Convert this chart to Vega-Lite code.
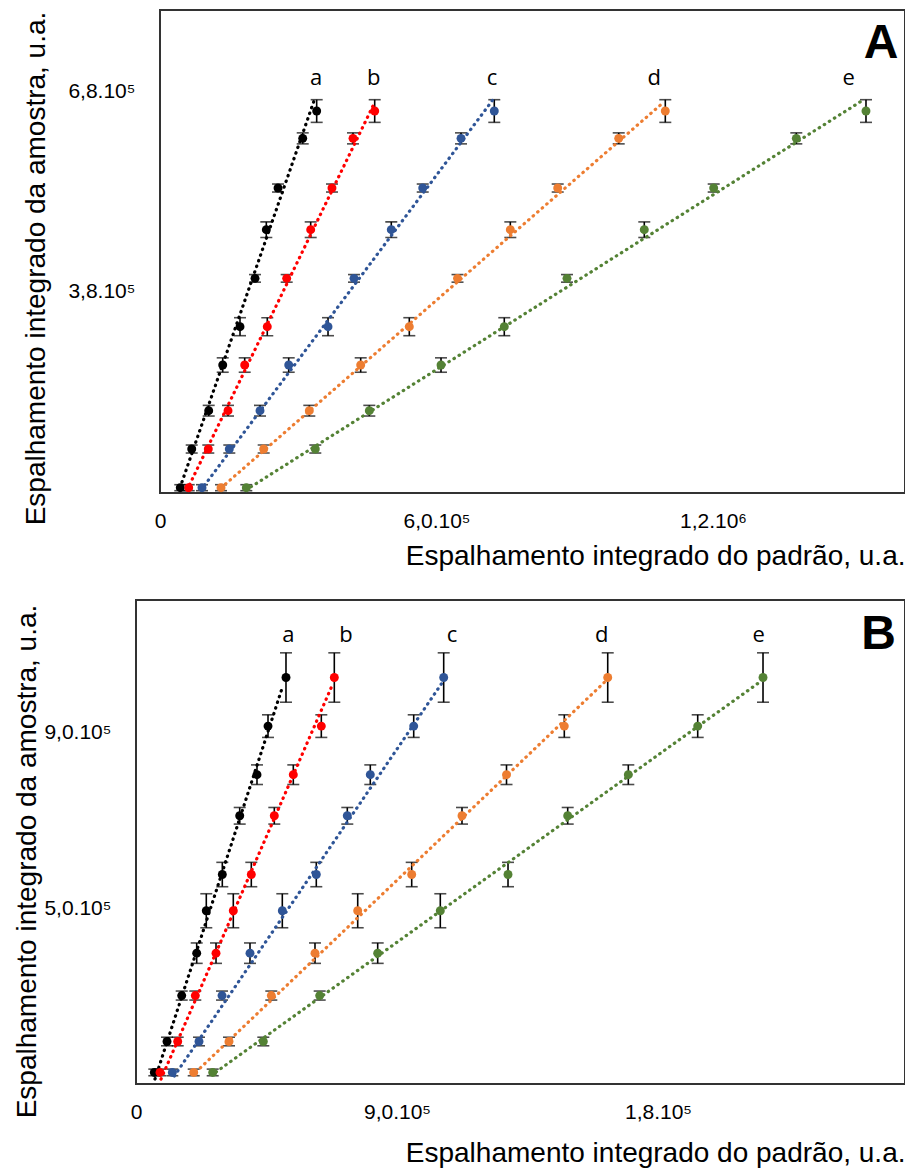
{
  "$schema": "https://vega.github.io/schema/vega-lite/v6.json",
  "padding": {"left": 11, "top": 9, "right": 0, "bottom": 0},
  "background": "white",
  "spacing": 29,
  "datasets": {
    "ptsA": [
      {"s": "a", "x": 44000, "y": 86000, "e": 4500},
      {"s": "a", "x": 68800, "y": 144000, "e": 6000},
      {"s": "a", "x": 105700, "y": 201500, "e": 8000},
      {"s": "a", "x": 136100, "y": 270000, "e": 10800},
      {"s": "a", "x": 173600, "y": 327500, "e": 13500},
      {"s": "a", "x": 206200, "y": 400000, "e": 5700},
      {"s": "a", "x": 230700, "y": 473000, "e": 11700},
      {"s": "a", "x": 256100, "y": 535500, "e": 6000},
      {"s": "a", "x": 309700, "y": 610000, "e": 8250},
      {"s": "a", "x": 340000, "y": 651000, "e": 17000},
      {"s": "b", "x": 62300, "y": 86000, "e": 4500},
      {"s": "b", "x": 104800, "y": 144000, "e": 6000},
      {"s": "b", "x": 147600, "y": 201500, "e": 8000},
      {"s": "b", "x": 183800, "y": 270000, "e": 10800},
      {"s": "b", "x": 232800, "y": 327500, "e": 13500},
      {"s": "b", "x": 274900, "y": 400000, "e": 5700},
      {"s": "b", "x": 327000, "y": 473000, "e": 11700},
      {"s": "b", "x": 373200, "y": 535500, "e": 6000},
      {"s": "b", "x": 418800, "y": 610000, "e": 8250},
      {"s": "b", "x": 465900, "y": 651000, "e": 17000},
      {"s": "c", "x": 91100, "y": 86000, "e": 4500},
      {"s": "c", "x": 150400, "y": 144000, "e": 6000},
      {"s": "c", "x": 217000, "y": 201500, "e": 8000},
      {"s": "c", "x": 279300, "y": 270000, "e": 10800},
      {"s": "c", "x": 364600, "y": 327500, "e": 13500},
      {"s": "c", "x": 421000, "y": 400000, "e": 5700},
      {"s": "c", "x": 501900, "y": 473000, "e": 11700},
      {"s": "c", "x": 570100, "y": 535500, "e": 6000},
      {"s": "c", "x": 653200, "y": 610000, "e": 8250},
      {"s": "c", "x": 725400, "y": 651000, "e": 17000},
      {"s": "d", "x": 132400, "y": 86000, "e": 4500},
      {"s": "d", "x": 225000, "y": 144000, "e": 6000},
      {"s": "d", "x": 324000, "y": 201500, "e": 8000},
      {"s": "d", "x": 435500, "y": 270000, "e": 10800},
      {"s": "d", "x": 541000, "y": 327500, "e": 13500},
      {"s": "d", "x": 645600, "y": 400000, "e": 5700},
      {"s": "d", "x": 760200, "y": 473000, "e": 11700},
      {"s": "d", "x": 863000, "y": 535500, "e": 6000},
      {"s": "d", "x": 995400, "y": 610000, "e": 8250},
      {"s": "d", "x": 1096500, "y": 651000, "e": 17000},
      {"s": "e", "x": 187300, "y": 86000, "e": 4500},
      {"s": "e", "x": 337000, "y": 144000, "e": 6000},
      {"s": "e", "x": 454200, "y": 201500, "e": 8000},
      {"s": "e", "x": 609800, "y": 270000, "e": 10800},
      {"s": "e", "x": 747100, "y": 327500, "e": 13500},
      {"s": "e", "x": 883200, "y": 400000, "e": 5700},
      {"s": "e", "x": 1050900, "y": 473000, "e": 11700},
      {"s": "e", "x": 1201500, "y": 535500, "e": 6000},
      {"s": "e", "x": 1380800, "y": 610000, "e": 8250},
      {"s": "e", "x": 1532000, "y": 651000, "e": 17000}
    ],
    "linesA": [
      {"s": "a", "x": 43400, "y": 86000}, {"s": "a", "x": 334800, "y": 667500},
      {"s": "b", "x": 58600, "y": 82600}, {"s": "b", "x": 466600, "y": 665000},
      {"s": "c", "x": 89000, "y": 82600}, {"s": "c", "x": 722000, "y": 667500},
      {"s": "d", "x": 132400, "y": 85600}, {"s": "d", "x": 1094300, "y": 665000},
      {"s": "e", "x": 186600, "y": 82600}, {"s": "e", "x": 1528300, "y": 668600}
    ],
    "lettersA": [
      {"t": "a", "x": 338500, "y": 690000},
      {"t": "b", "x": 463700, "y": 690000},
      {"t": "c", "x": 720400, "y": 690000},
      {"t": "d", "x": 1072600, "y": 690000},
      {"t": "e", "x": 1494500, "y": 690000}
    ],
    "panelA": [{"t": "A", "x": 1564600, "y": 730500}],
    "frameA": [{"x0": 0, "x1": 1616650, "y0": 78050, "y1": 802550}],
    "ptsB": [
      {"s": "a", "x": 63100, "y": 130000, "e": 7500},
      {"s": "a", "x": 106900, "y": 200000, "e": 9700},
      {"s": "a", "x": 157600, "y": 304000, "e": 10200},
      {"s": "a", "x": 209300, "y": 400000, "e": 23100},
      {"s": "a", "x": 242400, "y": 496000, "e": 38500},
      {"s": "a", "x": 297600, "y": 578000, "e": 27600},
      {"s": "a", "x": 357600, "y": 711000, "e": 18800},
      {"s": "a", "x": 417200, "y": 804000, "e": 22200},
      {"s": "a", "x": 455200, "y": 914000, "e": 25600},
      {"s": "a", "x": 517200, "y": 1024000, "e": 55900},
      {"s": "b", "x": 82800, "y": 130000, "e": 7500},
      {"s": "b", "x": 143800, "y": 200000, "e": 9700},
      {"s": "b", "x": 204500, "y": 304000, "e": 10200},
      {"s": "b", "x": 275900, "y": 400000, "e": 23100},
      {"s": "b", "x": 335500, "y": 496000, "e": 38500},
      {"s": "b", "x": 397600, "y": 578000, "e": 27600},
      {"s": "b", "x": 476900, "y": 711000, "e": 18800},
      {"s": "b", "x": 542400, "y": 804000, "e": 22200},
      {"s": "b", "x": 639000, "y": 914000, "e": 25600},
      {"s": "b", "x": 683800, "y": 1024000, "e": 55900},
      {"s": "c", "x": 125200, "y": 130000, "e": 7500},
      {"s": "c", "x": 217200, "y": 200000, "e": 9700},
      {"s": "c", "x": 296600, "y": 304000, "e": 10200},
      {"s": "c", "x": 393100, "y": 400000, "e": 23100},
      {"s": "c", "x": 504500, "y": 496000, "e": 38500},
      {"s": "c", "x": 621700, "y": 578000, "e": 27600},
      {"s": "c", "x": 728600, "y": 711000, "e": 18800},
      {"s": "c", "x": 807900, "y": 804000, "e": 22200},
      {"s": "c", "x": 957600, "y": 914000, "e": 25600},
      {"s": "c", "x": 1061000, "y": 1024000, "e": 55900},
      {"s": "d", "x": 199000, "y": 130000, "e": 7500},
      {"s": "d", "x": 320700, "y": 200000, "e": 9700},
      {"s": "d", "x": 466600, "y": 304000, "e": 10200},
      {"s": "d", "x": 617200, "y": 400000, "e": 23100},
      {"s": "d", "x": 764500, "y": 496000, "e": 38500},
      {"s": "d", "x": 950700, "y": 578000, "e": 27600},
      {"s": "d", "x": 1124100, "y": 711000, "e": 18800},
      {"s": "d", "x": 1277600, "y": 804000, "e": 22200},
      {"s": "d", "x": 1476900, "y": 914000, "e": 25600},
      {"s": "d", "x": 1626600, "y": 1024000, "e": 55900},
      {"s": "e", "x": 264500, "y": 130000, "e": 7500},
      {"s": "e", "x": 439000, "y": 200000, "e": 9700},
      {"s": "e", "x": 633400, "y": 304000, "e": 10200},
      {"s": "e", "x": 833400, "y": 400000, "e": 23100},
      {"s": "e", "x": 1049300, "y": 496000, "e": 38500},
      {"s": "e", "x": 1282800, "y": 578000, "e": 27600},
      {"s": "e", "x": 1488600, "y": 711000, "e": 18800},
      {"s": "e", "x": 1697600, "y": 804000, "e": 22200},
      {"s": "e", "x": 1936900, "y": 914000, "e": 25600},
      {"s": "e", "x": 2162100, "y": 1024000, "e": 55900}
    ],
    "linesB": [
      {"s": "a", "x": 65500, "y": 115000}, {"s": "a", "x": 505900, "y": 1004000},
      {"s": "b", "x": 86200, "y": 115000}, {"s": "b", "x": 678300, "y": 1009000},
      {"s": "c", "x": 132100, "y": 121800}, {"s": "c", "x": 1057600, "y": 1014000},
      {"s": "d", "x": 206900, "y": 130900}, {"s": "d", "x": 1614800, "y": 1013000},
      {"s": "e", "x": 275900, "y": 130900}, {"s": "e", "x": 2149300, "y": 1013000}
    ],
    "lettersB": [
      {"t": "a", "x": 525200, "y": 1103800},
      {"t": "b", "x": 724100, "y": 1103800},
      {"t": "c", "x": 1089700, "y": 1103800},
      {"t": "d", "x": 1605900, "y": 1103800},
      {"t": "e", "x": 2147200, "y": 1103800}
    ],
    "panelB": [{"t": "B", "x": 2560300, "y": 1088600}]
  },
  "vconcat": [
    {
      "width": 769,
      "height": 483,
      "view": {"stroke": null},
      "encoding": {
        "x": {
          "field": "x", "type": "quantitative",
          "scale": {"domain": [-52080, 1616650], "nice": false, "zero": false},
          "title": "Espalhamento integrado do padrão, u.a.",
          "axis": {
            "values": [0, 600000, 1200000],
            "labelExpr": "datum.value == 0 ? '0' : datum.value == 600000 ? '6,0.10⁵' : '1,2.10⁶'",
            "labelPadding": 17, "titleAnchor": "end", "titlePadding": 11
          }
        },
        "y": {
          "field": "y", "type": "quantitative",
          "scale": {"domain": [78050, 802550], "nice": false, "zero": false},
          "title": "Espalhamento integrado da amostra, u.a.",
          "axis": {
            "values": [380000, 680000],
            "labelExpr": "datum.value == 680000 ? '6,8.10⁵' : '3,8.10⁵'",
            "labelPadding": 1, "titleX": -86, "titleY": 258
          }
        }
      },
      "layer": [
        {
          "data": {"name": "frameA"},
          "mark": {"type": "rect", "filled": false, "color": "#333333", "strokeWidth": 2},
          "encoding": {
            "x": {"field": "x0", "type": "quantitative"},
            "x2": {"field": "x1"},
            "y": {"field": "y0", "type": "quantitative"},
            "y2": {"field": "y1"}
          }
        },
        {
          "data": {"name": "ptsA"},
          "mark": {"type": "errorbar", "color": "black", "thickness": 1.6, "ticks": {"size": 12, "thickness": 1.6, "color": "black"}},
          "encoding": {"yError": {"field": "e"}}
        },
        {
          "data": {"name": "linesA"},
          "mark": {"type": "line", "strokeDash": [0.5, 5.5], "strokeCap": "round", "strokeWidth": 3.2},
          "encoding": {
            "color": {"field": "s", "type": "nominal", "legend": null,
              "scale": {"domain": ["a", "b", "c", "d", "e"], "range": ["#000000", "#FF0000", "#2F5597", "#ED7D31", "#548235"]}}
          }
        },
        {
          "data": {"name": "ptsA"},
          "mark": {"type": "circle", "size": 80, "opacity": 1},
          "encoding": {
            "color": {"field": "s", "type": "nominal", "legend": null}
          }
        },
        {
          "data": {"name": "lettersA"},
          "mark": {"type": "text", "font": "Open Sans", "fontSize": 22, "baseline": "alphabetic", "align": "center", "color": "black"},
          "encoding": {"text": {"field": "t"}}
        },
        {
          "data": {"name": "panelA"},
          "mark": {"type": "text", "font": "Liberation Sans", "fontSize": 48, "fontWeight": "bold", "baseline": "alphabetic", "align": "center", "color": "black"},
          "encoding": {"text": {"field": "t"}}
        }
      ]
    },
    {
      "width": 769,
      "height": 484,
      "encoding": {
        "x": {
          "field": "x", "type": "quantitative",
          "scale": {"domain": [0, 2651700], "nice": false, "zero": false},
          "title": "Espalhamento integrado do padrão, u.a.",
          "axis": {
            "values": [0, 900000, 1800000],
            "labelExpr": "datum.value == 0 ? '0' : datum.value == 900000 ? '9,0.10⁵' : '1,8.10⁵'",
            "labelPadding": 17, "titleAnchor": "end", "titlePadding": 17
          }
        },
        "y": {
          "field": "y", "type": "quantitative",
          "scale": {"domain": [103800, 1199500], "nice": false, "zero": false},
          "title": "Espalhamento integrado da amostra, u.a.",
          "axis": {
            "values": [500000, 900000],
            "labelExpr": "datum.value == 900000 ? '9,0.10⁵' : '5,0.10⁵'",
            "labelPadding": 25, "titleX": -95, "titleY": 261
          }
        }
      },
      "layer": [
        {
          "data": {"name": "ptsB"},
          "mark": {"type": "errorbar", "color": "black", "thickness": 1.6, "ticks": {"size": 12, "thickness": 1.6, "color": "black"}},
          "encoding": {"yError": {"field": "e"}}
        },
        {
          "data": {"name": "linesB"},
          "mark": {"type": "line", "strokeDash": [0.5, 5.5], "strokeCap": "round", "strokeWidth": 3.2},
          "encoding": {
            "color": {"field": "s", "type": "nominal", "legend": null,
              "scale": {"domain": ["a", "b", "c", "d", "e"], "range": ["#000000", "#FF0000", "#2F5597", "#ED7D31", "#548235"]}}
          }
        },
        {
          "data": {"name": "ptsB"},
          "mark": {"type": "circle", "size": 80, "opacity": 1},
          "encoding": {
            "color": {"field": "s", "type": "nominal", "legend": null}
          }
        },
        {
          "data": {"name": "lettersB"},
          "mark": {"type": "text", "font": "Open Sans", "fontSize": 22, "baseline": "alphabetic", "align": "center", "color": "black"},
          "encoding": {"text": {"field": "t"}}
        },
        {
          "data": {"name": "panelB"},
          "mark": {"type": "text", "font": "Liberation Sans", "fontSize": 48, "fontWeight": "bold", "baseline": "alphabetic", "align": "center", "color": "black"},
          "encoding": {"text": {"field": "t"}}
        }
      ]
    }
  ],
  "resolve": {"scale": {"color": "shared"}},
  "config": {
    "view": {"stroke": "#333333", "strokeWidth": 2},
    "axis": {
      "grid": false, "domain": false, "ticks": false,
      "labelFont": "Liberation Sans", "labelFontSize": 21, "labelColor": "#000000",
      "titleFont": "Liberation Sans", "titleFontSize": 28, "titleFontWeight": "normal", "titleColor": "#000000",
      "labelOverlap": false, "labelFlush": false
    }
  }
}
